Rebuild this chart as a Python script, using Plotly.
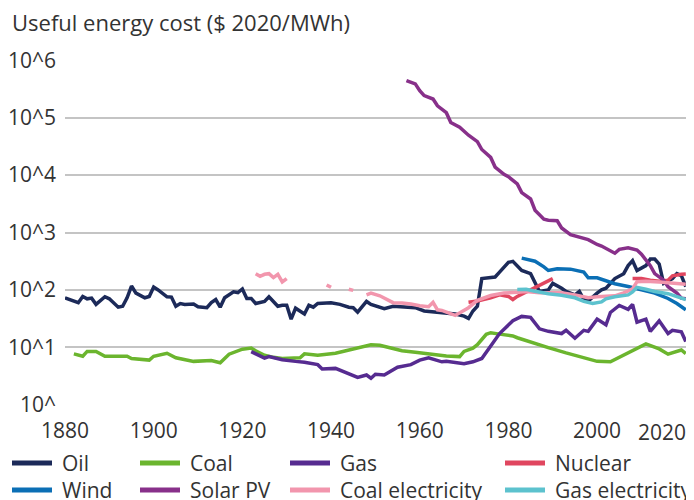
import plotly.graph_objects as go

# Values ($ 2020/MWh, log scale)
oil_years = [1880, 1883, 1884, 1885, 1886, 1887, 1889, 1890, 1892, 1893, 1894, 1895, 1896, 1898, 1899,
             1900, 1901, 1903, 1904, 1905, 1906, 1907, 1909, 1910, 1912, 1913, 1914, 1915, 1916, 1918,
             1919, 1920, 1921, 1922, 1923, 1925, 1926, 1928, 1929, 1930, 1931, 1932, 1934, 1935, 1936,
             1937, 1940, 1942, 1944, 1945, 1946, 1948, 1949, 1952, 1954, 1957, 1959, 1961, 1964, 1965,
             1968, 1970, 1971, 1972, 1973, 1974, 1976, 1977, 1978, 1980, 1981, 1982, 1983, 1985, 1986,
             1987, 1989, 1990, 1992, 1993, 1995, 1996, 1997, 1998, 2000, 2001, 2002, 2004, 2006, 2007,
             2008, 2009, 2011, 2012, 2013, 2014, 2015, 2017, 2018, 2019, 2020]
oil = [73, 60, 77, 70, 72, 56, 76, 70, 50, 52, 73, 117, 88, 73, 77,
       112, 100, 76, 75, 52, 58, 56, 57, 51, 49, 60, 68, 50, 73, 93,
       90, 104, 71, 71, 58, 63, 76, 52, 54, 54, 31, 48, 38, 54, 50,
       58, 60, 56, 50, 49, 41, 63, 56, 47, 52, 51, 49, 43, 41, 40,
       38, 35, 32, 43, 52, 158, 164, 168, 204, 302, 314, 265, 218, 192, 130,
       94, 100, 130, 107, 94, 82, 94, 68, 64, 88, 100, 107, 158, 192, 265,
       322, 218, 265, 344, 344, 283, 130, 158, 192, 178, 114]

coal_years = [1882, 1884, 1885, 1887, 1889, 1894, 1895, 1899, 1900, 1903, 1905, 1909, 1913, 1915, 1917,
              1920, 1922, 1923, 1925, 1927, 1929, 1931, 1933, 1934, 1937, 1941, 1944, 1946, 1949, 1951,
              1953, 1956, 1959, 1962, 1965, 1966, 1969, 1970, 1972, 1973, 1975, 1976, 1978, 1981, 1982,
              1985, 1989, 1993, 1997, 2000, 2003, 2005, 2007, 2009, 2011, 2014, 2016, 2019, 2020]
coal = [7.7, 7.0, 8.5, 8.5, 7.0, 7.0, 6.4, 6.0, 7.0, 7.9, 6.6, 5.7, 5.9, 5.4, 7.6,
        9.3, 9.7, 8.7, 7.3, 6.7, 6.4, 6.4, 6.6, 7.7, 7.3, 7.9, 9.0, 9.7, 11.1, 10.9,
        10.0, 8.7, 8.2, 7.6, 7.3, 7.1, 6.9, 8.5, 9.7, 11.1, 16.9, 18.0, 17.0, 15.8, 14.7,
        12.3, 9.9, 8.0, 6.6, 5.7, 5.6, 6.7, 7.9, 9.7, 11.5, 9.4, 7.6, 9.0, 7.8]

gas_years = [1922, 1925, 1926, 1929, 1932, 1934, 1937, 1938, 1941, 1943, 1945, 1946, 1948, 1949, 1950,
             1952, 1955, 1958, 1960, 1962, 1965, 1966, 1970, 1972, 1974, 1976, 1978, 1981, 1983, 1985,
             1987, 1989, 1992, 1993, 1995, 1997, 1998, 2000, 2002, 2003, 2005, 2007, 2008, 2009, 2011,
             2012, 2014, 2016, 2017, 2019, 2020]
gas = [8.4, 6.5, 6.9, 6.1, 5.7, 5.5, 5.0, 4.2, 4.3, 3.7, 3.2, 3.0, 3.3, 2.9, 3.4,
       3.3, 4.5, 5.0, 6.0, 6.6, 5.6, 5.7, 5.2, 5.6, 6.4, 10.4, 17.4, 29, 34.6, 33.3,
       21, 19, 17.4, 19.8, 14.4, 19.8, 19, 31, 24.7, 40.5, 53.6, 46, 55.8, 27.5, 31,
       19, 29, 17.4, 19.8, 18.6, 12.6]

nuclear_years = [1971, 1973, 1976, 1978, 1980, 1981, 1982, 1984, 1986, 1987, 1989, 1990, 1991,
                 2008, 2010, 2012, 2014, 2016, 2017, 2019, 2020]
nuclear = [61, 64, 73, 82, 77, 68, 77, 92, 114, 122, 145, 157, None,
           158, 158, 148, 142, 148, 176, 187, 189]

wind_years = [1983, 1986, 1988, 1989, 1991, 1994, 1997, 1998, 2000, 2002, 2004, 2007, 2009, 2011,
              2013, 2016, 2018, 2020]
wind = [358, 316, 252, 218, 233, 230, 204, 163, 163, 145, 128, 115, 104, 94, 88, 71, 58, 45]

solar_years = [1957, 1959, 1960, 1961, 1963, 1964, 1966, 1967, 1969, 1971, 1973, 1974, 1976, 1977,
               1979, 1980, 1982, 1983, 1985, 1986, 1988, 1989, 1991, 1992, 1994, 1996, 1998, 2000,
               2001, 2004, 2005, 2007, 2009, 2010, 2012, 2013, 2015, 2016, 2018, 2019, 2020]
solar = [443000, 388000, 296000, 242000, 211000, 161000, 122000, 82500, 68100, 49500, 38300, 27900,
         20300, 13800, 10300, 9350, 7030, 4940, 3840, 2440, 1710, 1640, 1600, 1200, 914, 822, 751,
         619, 580, 436, 509, 542, 495, 419, 265, 192, 148, 114, 88, 72, 70]

coal_el_years = [1923, 1924, 1925, 1926, 1927, 1928, 1929, 1930, 1935, 1939, 1940, 1942, 1944, 1945,
                 1947, 1948, 1949, 1951, 1952, 1954, 1956, 1958, 1960, 1962, 1963, 1964, 1965, 1967,
                 1968, 1971, 1973, 1976, 1979, 1982, 1984, 1987, 1992, 1995, 1998, 2000, 2004, 2006,
                 2008, 2009, 2011, 2014, 2017, 2020]
coal_el = [192, 173, 187, 192, 164, 187, 138, 158, None, 122, 111, None, 103, 98,
           None, 82, 88, 79, 72, 60, 59, 57, 53, 51, 61, 45, 44, 39,
           36, 49, 66, 80, 88, 91, 94, 89, 89, 82, 73, 76, 79, 89,
           104, 139, 142, 138, 130, 126]

gas_el_years = [1982, 1984, 1986, 1989, 1992, 1995, 1997, 1999, 2001, 2002, 2004, 2007, 2008, 2009,
                2011, 2013, 2016, 2018, 2020]
gas_el = [102, 103, 95, 86, 81, 73, 63, 58, 62, 70, 76, 82, 92, 111, 103, 94, 86, 76, 68]

series = [
    ("Oil", oil_years, oil, "#1c2a59"),
    ("Coal", coal_years, coal, "#6bb52e"),
    ("Gas", gas_years, gas, "#562b90"),
    ("Nuclear", nuclear_years, nuclear, "#e0465f"),
    ("Wind", wind_years, wind, "#0b6fb5"),
    ("Solar PV", solar_years, solar, "#88308a"),
    ("Coal electricity", coal_el_years, coal_el, "#f296ad"),
    ("Gas electricity", gas_el_years, gas_el, "#5cc2ce"),
]

text_color = "#333333"
font_family = "Open Sans"
fsize = 21

# the page body has an 8px margin, so the figure is laid out 8px up/left
OFF = 8
W, H = 694, 500
L, T = 65 - OFF, 60 - OFF
R, B = W - (688 - OFF), H - (405 - OFF)
plot_w, plot_h = W - L - R, H - T - B


def px_to_paper(px, py):
    # pixel position in the target picture -> paper coordinates
    return (px - OFF - L) / plot_w, (H - B - (py - OFF)) / plot_h


fig = go.Figure()
for name, xs, ys, color in series:
    fig.add_trace(go.Scatter(
        x=xs, y=ys, name=name, mode="lines",
        line=dict(color=color, width=3.5),
        showlegend=False,
    ))

# Legend drawn by hand: 4 columns of unequal width, 2 rows
legend_cols = [12, 140, 290, 505]
legend_rows = [463, 490]
shapes, annotations = [], []
for i, (name, _, _, color) in enumerate(series):
    lx, ly = legend_cols[i % 4], legend_rows[i // 4]
    x0, y0 = px_to_paper(lx, ly)
    x1, _ = px_to_paper(lx + 40, ly)
    shapes.append(dict(type="line", xref="paper", yref="paper", x0=x0, x1=x1, y0=y0, y1=y0,
                       line=dict(color=color, width=5)))
    tx, _ = px_to_paper(lx + 48, ly)
    annotations.append(dict(text=name, xref="paper", yref="paper", x=tx, y=y0,
                            xanchor="left", yanchor="middle", showarrow=False,
                            font=dict(size=fsize, color=text_color)))

tx, ty = px_to_paper(10, 22)
annotations.append(dict(text="Useful energy cost ($ 2020/MWh)", xref="paper", yref="paper",
                        x=tx, y=ty, xanchor="left", yanchor="middle", showarrow=False,
                        font=dict(size=22, color=text_color)))
# last year label is right-aligned to the end of the axis
annotations.append(dict(text="2020", xref="x", yref="paper", x=2020.5, y=0, xanchor="right",
                        yanchor="top", yshift=-11, showarrow=False,
                        font=dict(size=fsize, color=text_color)))

fig.update_layout(
    width=W, height=H,
    margin=dict(l=L, r=R, t=T, b=B, autoexpand=False),
    paper_bgcolor="white", plot_bgcolor="white",
    font=dict(family=font_family, size=fsize, color=text_color),
    showlegend=False,
    xaxis=dict(
        range=[1880, 2020.5], tickvals=[1880, 1900, 1920, 1940, 1960, 1980, 2000],
        showgrid=False, zeroline=False, showline=False, ticks="",
        ticklabelstandoff=11,
        tickfont=dict(size=fsize, color=text_color),
    ),
    yaxis=dict(
        type="log", range=[-0.004, 6.004],
        tickvals=[1, 10, 100, 1e3, 1e4, 1e5, 1e6],
        ticktext=["10^", "10^1", "10^2", "10^3", "10^4", "10^5", "10^6"],
        gridcolor="#c4c4c4", gridwidth=1.5, zeroline=False, showline=False, ticks="",
        ticklabelstandoff=8,
        tickfont=dict(size=fsize, color=text_color),
    ),
    shapes=shapes,
    annotations=annotations,
)

fig.write_html("out.html")
